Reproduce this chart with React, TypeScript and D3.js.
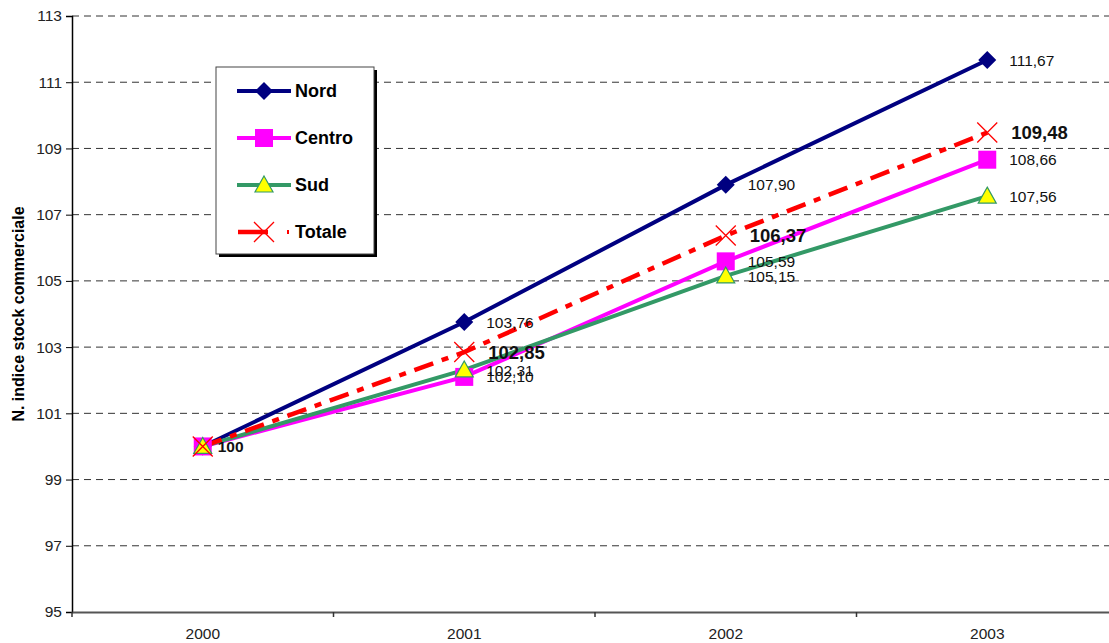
import React, { useEffect, useRef } from 'react';
import * as d3 from 'd3';

const years = ['2000', '2001', '2002', '2003'];
const nord = [100, 103.76, 107.9, 111.67];
const centro = [100, 102.1, 105.59, 108.66];
const sud = [100, 102.31, 105.15, 107.56];
const totale = [100, 102.85, 106.37, 109.48];
const yTicks = [95, 97, 99, 101, 103, 105, 107, 109, 111, 113];

const fmt = (v: number) => (v === 100 ? '100' : v.toFixed(2).replace('.', ','));

const series = [
  { name: 'Nord', values: nord, color: '#000080', marker: 'diamond', bold: false },
  { name: 'Centro', values: centro, color: '#FF00FF', marker: 'square', bold: false },
  { name: 'Sud', values: sud, color: '#339966', marker: 'triangle', bold: false },
  { name: 'Totale', values: totale, color: '#FF0000', marker: 'x', bold: true },
];

const FONT = 'Liberation Sans, Arial, sans-serif';

const App: React.FC = () => {
  const ref = useRef<SVGSVGElement | null>(null);

  useEffect(() => {
    if (!ref.current) return;
    const svg = d3.select(ref.current);
    svg.selectAll('*').remove();

    const left = 72, right = 1118, top = 16, bottom = 612;
    const x = d3.scaleBand().domain(years).range([left, right]);
    const y = d3.scaleLinear().domain([95, 113]).range([bottom, top]);
    const cx = (yr: string) => (x(yr) as number) + x.bandwidth() / 2;

    // gridlines
    svg.append('g')
      .selectAll('line')
      .data(yTicks.filter(t => t !== 95))
      .enter()
      .append('line')
      .attr('x1', left).attr('x2', right)
      .attr('y1', d => y(d)).attr('y2', d => y(d))
      .attr('stroke', '#333')
      .attr('stroke-width', 1)
      .attr('stroke-dasharray', '7,5');

    // Y axis
    const yAxis = svg.append('g')
      .attr('transform', `translate(${left},0)`)
      .call(d3.axisLeft(y).tickValues(yTicks).tickSize(6).tickFormat(d3.format('d')));
    yAxis.select('.domain').attr('stroke', '#000').attr('stroke-width', 1.5);
    yAxis.selectAll('.tick line').attr('stroke', '#000');
    yAxis.selectAll('.tick text')
      .attr('font-family', FONT)
      .attr('font-size', 15.5)
      .attr('fill', '#222')
      .attr('x', -10);

    // X axis
    const xAxis = svg.append('g')
      .attr('transform', `translate(0,${bottom})`)
      .call(d3.axisBottom(x).tickSize(0).tickPadding(16));
    xAxis.select('.domain').attr('stroke', '#555').attr('stroke-width', 2);
    xAxis.selectAll('.tick text')
      .attr('font-family', FONT)
      .attr('font-size', 15.5)
      .attr('fill', '#222');
    svg.append('g')
      .selectAll('line')
      .data(years)
      .enter()
      .append('line')
      .attr('x1', d => x(d) as number).attr('x2', d => x(d) as number)
      .attr('y1', bottom).attr('y2', bottom + 5)
      .attr('stroke', '#333').attr('stroke-width', 1.5);

    // Y title
    svg.append('text')
      .attr('transform', `translate(24,314) rotate(-90)`)
      .attr('text-anchor', 'middle')
      .attr('font-family', FONT)
      .attr('font-size', 16)
      .attr('font-weight', 'bold')
      .text('N. indice stock commerciale');

    const drawMarker = (g: any, kind: string, px: number, py: number, color: string) => {
      if (kind === 'diamond') {
        g.append('path')
          .attr('d', `M${px},${py - 9}L${px + 9},${py}L${px},${py + 9}L${px - 9},${py}Z`)
          .attr('fill', color);
      } else if (kind === 'square') {
        g.append('rect')
          .attr('x', px - 9).attr('y', py - 9).attr('width', 18).attr('height', 18)
          .attr('fill', color);
      } else if (kind === 'triangle') {
        g.append('path')
          .attr('d', `M${px},${py - 9}L${px + 9},${py + 7}L${px - 9},${py + 7}Z`)
          .attr('fill', '#FFFF00').attr('stroke', '#339966').attr('stroke-width', 1.2);
      } else {
        g.append('path')
          .attr('d', `M${px - 10},${py - 10}L${px + 10},${py + 10}M${px + 10},${py - 10}L${px - 10},${py + 10}`)
          .attr('stroke', color).attr('stroke-width', 1.3).attr('fill', 'none');
      }
    };

    const line = d3.line<number>()
      .x((_, i) => cx(years[i]))
      .y(d => y(d));

    // lines
    series.forEach(s => {
      svg.append('path')
        .datum(s.values)
        .attr('d', line)
        .attr('fill', 'none')
        .attr('stroke', s.color)
        .attr('stroke-width', s.name === 'Totale' ? 4.5 : 4)
        .attr('stroke-dasharray', s.name === 'Totale' ? '20,9,7,9' : null);
    });

    // markers
    series.forEach(s => {
      const g = svg.append('g');
      s.values.forEach((v, i) => drawMarker(g, s.marker, cx(years[i]), y(v), s.color));
    });

    // labels (the first point shows one shared "100")
    series.forEach(s => {
      const pts = s.values.map((v, i) => ({ v, i })).filter(p => p.i > 0 || s.bold);
      svg.append('g')
        .selectAll('text')
        .data(pts)
        .enter()
        .append('text')
        .attr('x', p => cx(years[p.i]) + (p.i === 0 ? 15 : s.bold ? 24 : 22))
        .attr('y', p => y(p.v))
        .attr('dy', '0.36em')
        .attr('font-family', FONT)
        .attr('font-size', p => (p.i === 0 ? 15.5 : s.bold ? 18.5 : 15.5))
        .attr('font-weight', p => (s.bold || p.i === 0 ? 'bold' : 'normal'))
        .attr('fill', '#111')
        .text(p => fmt(p.v));
    });

    // legend
    const lg = svg.append('g');
    const lx = 216, ly = 67, lw = 158, lh = 187;
    lg.append('rect').attr('x', lx + 3).attr('y', ly + 3).attr('width', lw).attr('height', lh).attr('fill', '#000');
    lg.append('rect').attr('x', lx).attr('y', ly).attr('width', lw).attr('height', lh)
      .attr('fill', '#fff').attr('stroke', '#444').attr('stroke-width', 1);
    series.forEach((s, i) => {
      const yy = ly + 24 + i * 47;
      if (s.name === 'Totale') {
        lg.append('line').attr('x1', 238).attr('x2', 268).attr('y1', yy).attr('y2', yy)
          .attr('stroke', s.color).attr('stroke-width', 4.5);
        lg.append('line').attr('x1', 288).attr('x2', 288).attr('y1', yy - 2).attr('y2', yy + 2)
          .attr('stroke', s.color).attr('stroke-width', 2);
      } else {
        lg.append('line').attr('x1', 237).attr('x2', 291).attr('y1', yy).attr('y2', yy)
          .attr('stroke', s.color).attr('stroke-width', 4);
      }
      drawMarker(lg, s.marker, 264, yy, s.color);
      lg.append('text')
        .attr('x', 295).attr('y', yy).attr('dy', '0.36em')
        .attr('font-family', FONT)
        .attr('font-size', 18)
        .attr('font-weight', 'bold')
        .text(s.name);
    });
  }, []);

  return (
    <svg ref={ref} width={1109} height={643}
      style={{ position: 'absolute', left: 0, top: 0, background: '#fff' }} />
  );
};

export default App;
